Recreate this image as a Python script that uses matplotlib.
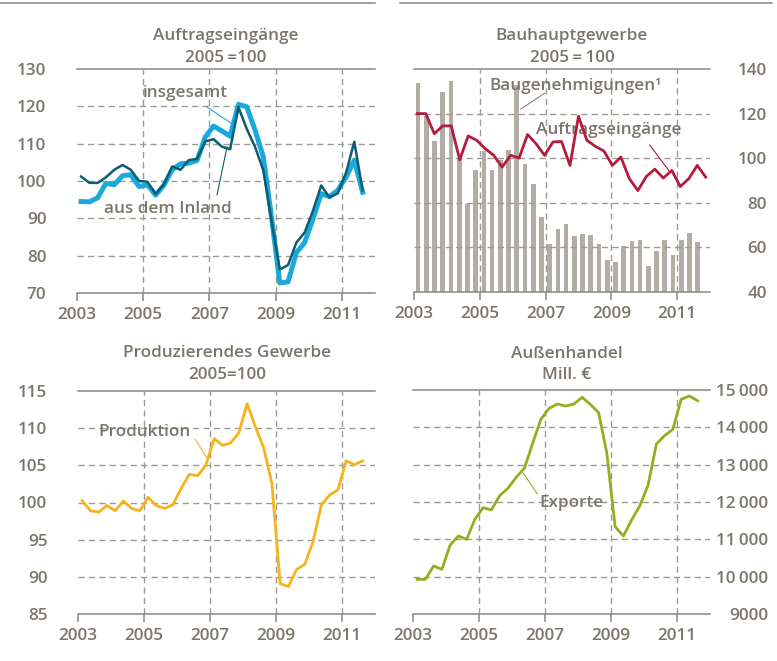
import numpy as np
import matplotlib
matplotlib.use("Agg")
import matplotlib.pyplot as plt
from matplotlib.lines import Line2D

plt.rcParams['font.family'] = ['Open Sans', 'DejaVu Sans']
plt.rcParams['font.weight'] = 'semibold'

# ---------------- data ----------------
years_ticks = [2003, 2005, 2007, 2009, 2011]
quarters = [2003.125 + 0.25 * i for i in range(35)]

# Auftragseingaenge (2005=100)
auftr_insgesamt = [94.5, 94.4, 95.5, 99.4, 99.0, 101.4, 101.7, 98.5, 99.0, 96.2,
                   98.9, 103.0, 104.6, 104.8, 105.5, 111.8, 114.7, 113.4, 112.0, 120.5,
                   119.9, 113.7, 106.5, 90.3, 72.7, 73.0, 80.8, 83.5, 89.8, 96.6,
                   95.8, 97.5, 101.0, 105.6, 97.0]
auftr_inland = [101.2, 99.5, 99.5, 101.0, 103.0, 104.3, 103.0, 100.0, 99.8, 96.5,
                99.1, 103.9, 103.0, 105.6, 105.9, 110.6, 111.2, 109.2, 108.5, 119.8,
                114.0, 109.2, 102.9, 89.4, 76.3, 77.5, 83.5, 86.2, 92.0, 98.8,
                95.6, 96.7, 102.2, 110.5, 97.5]

# Bauhauptgewerbe (2005=100)
bau_genehmigungen = [133.9, 119.0, 107.6, 129.9, 134.4, 100.0, 79.6, 94.5, 103.1, 94.8,
                     99.3, 103.5, 132.7, 97.2, 88.5, 73.6, 61.6, 68.3, 70.4, 65.0,
                     66.1, 65.6, 61.6, 54.4, 53.5, 60.7, 62.9, 63.4, 51.7, 58.4,
                     63.4, 56.6, 63.4, 66.5, 62.5]
bau_auftraege = [120.0, 120.0, 111.0, 114.5, 114.5, 99.3, 110.0, 108.0, 104.3, 101.3,
                 96.0, 101.3, 100.1, 110.6, 106.5, 101.3, 107.3, 107.5, 96.8, 118.8,
                 108.0, 105.3, 103.2, 96.8, 100.5, 90.8, 85.5, 91.8, 95.1, 91.1,
                 94.5, 87.3, 90.8, 96.8, 91.5]
bau_auftraege_x = list(np.linspace(2003.1, 2011.87, 35))

# Produzierendes Gewerbe (2005=100)
produktion = [100.25, 98.9, 98.7, 99.6, 98.9, 100.2, 99.2, 98.9, 100.7, 99.6,
              99.2, 99.7, 101.9, 103.8, 103.6, 105.0, 108.6, 107.7, 108.0, 109.4,
              113.3, 110.2, 107.4, 102.6, 89.1, 88.7, 91.0, 91.7, 94.8, 99.7,
              101.0, 101.7, 105.6, 105.1, 105.6]

# Aussenhandel (Mill. EUR)
exporte = [9929, 9929, 10286, 10196, 10848, 11089, 11000, 11536, 11848, 11786,
           12170, 12366, 12661, 12902, 13571, 14214, 14509, 14625, 14571, 14625,
           14804, 14616, 14393, 13304, 11339, 11089, 11518, 11902, 12455, 13554,
           13777, 13946, 14750, 14839, 14714]

# ---------------- styles ----------------
TXT = '#7a766b'
SPINE = '#8b877e'
GRID = '#9c9a95'
C_LIGHT = '#19a9dc'
C_DARK = '#0d5c74'
C_RED = '#b51b3c'
C_BAR = '#b2aea6'
C_YEL = '#f6b31a'
C_GRN = '#9aab1e'
FS = 12.3

W, H = 777, 661
fig = plt.figure(figsize=(W / 100, H / 100), dpi=100)


def make_ax(l, r, t, b):
    return fig.add_axes([l / W, 1 - b / H, (r - l) / W, (b - t) / H])


def style(ax, ylim, yticks, ylabels, side='left', pad=17):
    ax.set_xlim(2003, 2012)
    ax.set_ylim(*ylim)
    for s in ['left', 'right']:
        ax.spines[s].set_visible(False)
    for s in ['top', 'bottom']:
        ax.spines[s].set_color(SPINE)
        ax.spines[s].set_linewidth(1.1)
    ax.set_xticks(years_ticks)
    ax.set_xticklabels([str(y) for y in years_ticks], fontsize=FS, color=TXT)
    ax.tick_params(axis='x', direction='out', length=6, width=1.1, color=SPINE, pad=4)
    ax.set_yticks(yticks)
    if side == 'right':
        ax.yaxis.tick_right()
    ax.set_yticklabels(ylabels, fontsize=FS, color=TXT)
    ax.tick_params(axis='y', length=0, pad=pad)
    if side == 'right':
        for lab in ax.get_yticklabels():
            lab.set_horizontalalignment('right')
    for x in years_ticks[1:]:
        ax.axvline(x, color=GRID, lw=1, ls=(0, (4.5, 3)), zorder=1.5)
    for y in yticks[1:-1]:
        ax.axhline(y, color=GRID, lw=1, ls=(0, (4.5, 3)), zorder=1.5)


def title(x, y1, y2, t1, t2):
    fig.text(x / W, 1 - y1 / H, t1, ha='center', va='baseline', fontsize=FS, color=TXT)
    fig.text(x / W, 1 - y2 / H, t2, ha='center', va='baseline', fontsize=FS, color=TXT)


# top frame lines
fig.add_artist(Line2D([0, 375 / W], [1 - 3.3 / H] * 2, color=SPINE, lw=1.1))
fig.add_artist(Line2D([400 / W, 772 / W], [1 - 3.3 / H] * 2, color=SPINE, lw=1.1))

# ---- Panel 1: Auftragseingaenge ----
ax1 = make_ax(77, 375, 69, 293)
style(ax1, (70, 130), [70, 80, 90, 100, 110, 120, 130],
      ['70', '80', '90', '100', '110', '120', '130'], pad=22)
ax1.plot(quarters, auftr_insgesamt, color=C_LIGHT, lw=3.6, zorder=3, solid_joinstyle='round')
ax1.plot(quarters, auftr_inland, color=C_DARK, lw=1.8, zorder=4, solid_joinstyle='round')
ax1.text(2006.26, 122.6, 'insgesamt', ha='center', va='baseline', fontsize=FS, color=TXT)
ax1.plot([2006.93, 2007.65], [119.8, 115.5], color=C_LIGHT, lw=0.8, zorder=5)
ax1.text(2005.73, 91.5, 'aus dem Inland', ha='center', va='baseline', fontsize=FS, color=TXT)
ax1.plot([2007.23, 2007.53], [96.3, 109.1], color=C_DARK, lw=0.8, zorder=5)
title(226, 40, 62, 'Auftragseingänge', '2005\u2009=100')

# ---- Panel 2: Bauhauptgewerbe ----
ax2 = make_ax(414, 710, 69, 292)
style(ax2, (40, 140), [40, 60, 80, 100, 120, 140],
      ['40', '60', '80', '100', '120', '140'], side='right', pad=41)
ax2.bar(quarters, [v - 40 for v in bau_genehmigungen], bottom=40, width=0.14,
        color=C_BAR, zorder=1)
ax2.plot(bau_auftraege_x, bau_auftraege, color=C_RED, lw=2.0, zorder=4, solid_joinstyle='round')
ax2.text(2007.92, 130.6, 'Baugenehmigungen¹', ha='center', va='baseline', fontsize=FS, color=TXT)
ax2.plot([2006.25, 2006.98], [122.1, 129.2], color='#8a867c', lw=0.8, zorder=5)
ax2.text(2008.91, 110.9, 'Auftragseingänge', ha='center', va='baseline', fontsize=FS, color=TXT)
ax2.plot([2010.17, 2010.78], [105.9, 93.8], color=C_RED, lw=0.8, zorder=5)
title(572, 40, 62, 'Bauhauptgewerbe', '2005\u2009=\u2009100')

# ---- Panel 3: Produzierendes Gewerbe ----
ax3 = make_ax(78, 375, 391, 614)
style(ax3, (85, 115), [85, 90, 95, 100, 105, 110, 115],
      ['85', '90', '95', '100', '105', '110', '115'], pad=22)
ax3.plot(quarters, produktion, color=C_YEL, lw=2.0, zorder=4, solid_joinstyle='round')
ax3.text(2005.03, 108.9, 'Produktion', ha='center', va='baseline', fontsize=FS, color=TXT)
ax3.plot([2006.55, 2006.91], [108.5, 106.0], color=C_YEL, lw=0.8, zorder=5)
title(227, 357, 379, 'Produzierendes Gewerbe', '2005=100')

# ---- Panel 4: Aussenhandel ----
ax4 = make_ax(413, 710, 390, 614)
e_ticks = [9000, 10000, 11000, 12000, 13000, 14000, 15000]
e_labels = ['9000', '10\u2009000', '11\u2009000', '12\u2009000', '13\u2009000', '14\u2009000', '15\u2009000']
style(ax4, (9000, 15000), e_ticks, e_labels, side='right', pad=42)
ax4.plot(quarters, exporte, color=C_GRN, lw=2.0, zorder=4, solid_joinstyle='round')
ax4.text(2007.8, 11874, 'Exporte', ha='center', va='baseline', fontsize=FS, color=TXT)
ax4.plot([2006.34, 2006.77], [12777, 12214], color=C_GRN, lw=0.8, zorder=5)
title(567, 358, 379, 'Außenhandel', 'Mill. €')

fig.savefig('out.png', dpi=100)
